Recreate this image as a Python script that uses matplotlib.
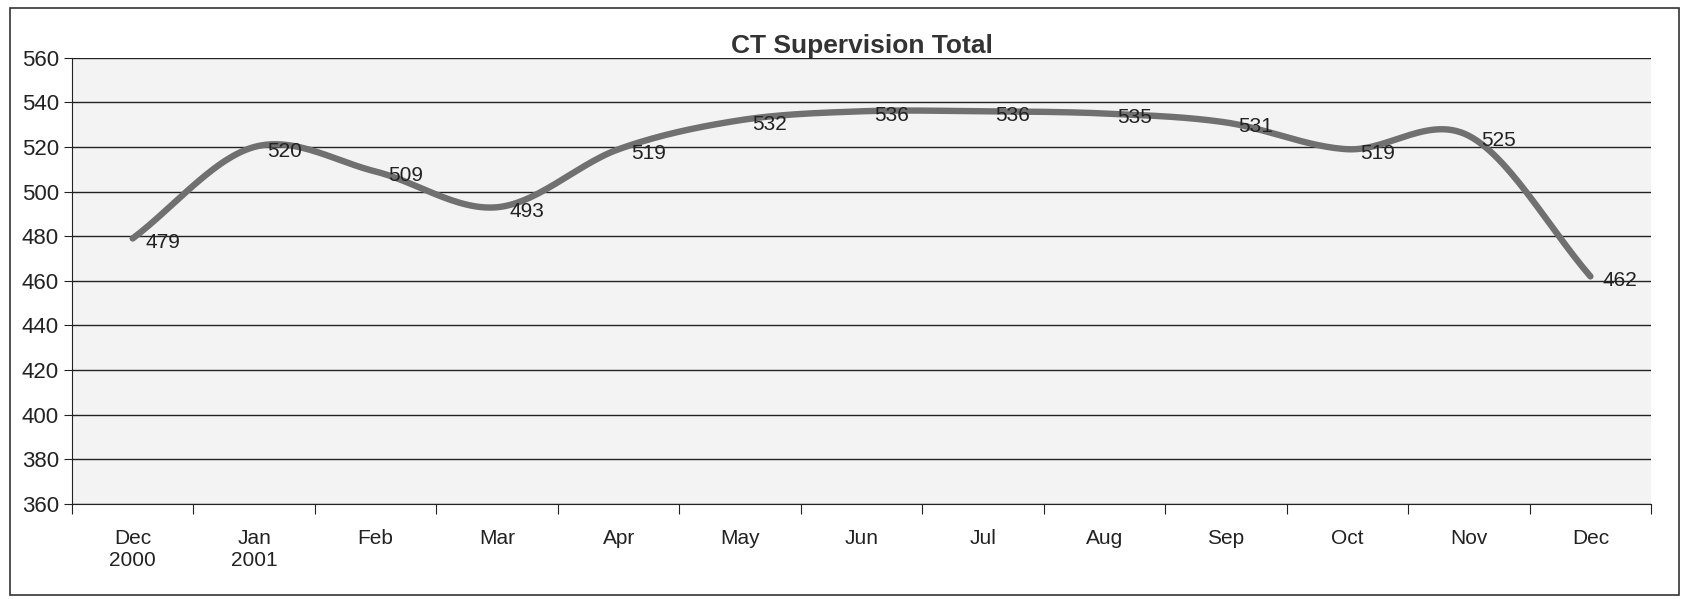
import numpy as np
import matplotlib.pyplot as plt
from matplotlib.patches import Rectangle

plt.rcParams['font.family'] = ['Liberation Sans', 'DejaVu Sans']

months = ['Dec\n2000', 'Jan\n2001', 'Feb', 'Mar', 'Apr', 'May', 'Jun',
          'Jul', 'Aug', 'Sep', 'Oct', 'Nov', 'Dec']
totals = [479, 520, 509, 493, 519, 532, 536, 536, 535, 531, 519, 525, 462]
y_ticks = list(range(360, 561, 20))


def smooth(x, y, n=30):
    # cardinal spline through the points, like Excel's smoothed line
    x = np.asarray(x, float)
    y = np.asarray(y, float)
    px = np.concatenate([[2 * x[0] - x[1]], x, [2 * x[-1] - x[-2]]])
    py = np.concatenate([[2 * y[0] - y[1]], y, [2 * y[-1] - y[-2]]])
    t = np.linspace(0, 1, n)
    xs, ys = [], []
    for i in range(1, len(px) - 2):
        for p, out in ((px, xs), (py, ys)):
            p0, p1, p2, p3 = p[i - 1], p[i], p[i + 1], p[i + 2]
            out.append(0.5 * ((2 * p1) + (-p0 + p2) * t
                              + (2 * p0 - 5 * p1 + 4 * p2 - p3) * t ** 2
                              + (-p0 + 3 * p1 - 3 * p2 + p3) * t ** 3))
    return np.concatenate(xs), np.concatenate(ys)


x = np.arange(len(months))
sx, sy = smooth(x, totals)

fig = plt.figure(figsize=(16.89, 5.99), dpi=100)
ax = fig.add_axes([0.0426, 0.1586, 0.935, 0.745])
ax.set_facecolor('#f3f3f3')

for v in y_ticks:
    ax.axhline(v, color='#222222', lw=1.0, zorder=1)

ax.plot(sx, sy, color='#707070', lw=4.6, solid_capstyle='round', zorder=3)
for xi, v in zip(x, totals):
    ax.annotate(str(v), (xi, v), xytext=(9, -3), textcoords='offset points',
                ha='left', va='center', fontsize=15, color='#222222', zorder=4)

ax.set_xlim(-0.5, len(months) - 0.5)
ax.set_ylim(360, 560)
ax.set_yticks(y_ticks)
ax.tick_params(axis='y', labelsize=16, length=6, direction='out', colors='#222222')

ax.set_xticks(np.arange(-0.5, len(months), 1.0))
ax.set_xticklabels([])
ax.set_xticks(x, minor=True)
ax.set_xticklabels(months, minor=True)
ax.tick_params(axis='x', which='major', length=7, direction='out', color='#222222')
ax.tick_params(axis='x', which='minor', length=0, labelsize=15, pad=18, colors='#222222')

for s in ['top', 'right']:
    ax.spines[s].set_visible(False)
for s in ['left', 'bottom']:
    ax.spines[s].set_color('#222222')

ax.set_title('CT Supervision Total', fontsize=19, fontweight='bold', pad=-1,
             color='#333333')

fig.patches.append(Rectangle((0.006, 0.006), 0.988, 0.98, transform=fig.transFigure,
                             fill=False, lw=1.2, edgecolor='#333333'))

fig.savefig('out.png', dpi=100)
